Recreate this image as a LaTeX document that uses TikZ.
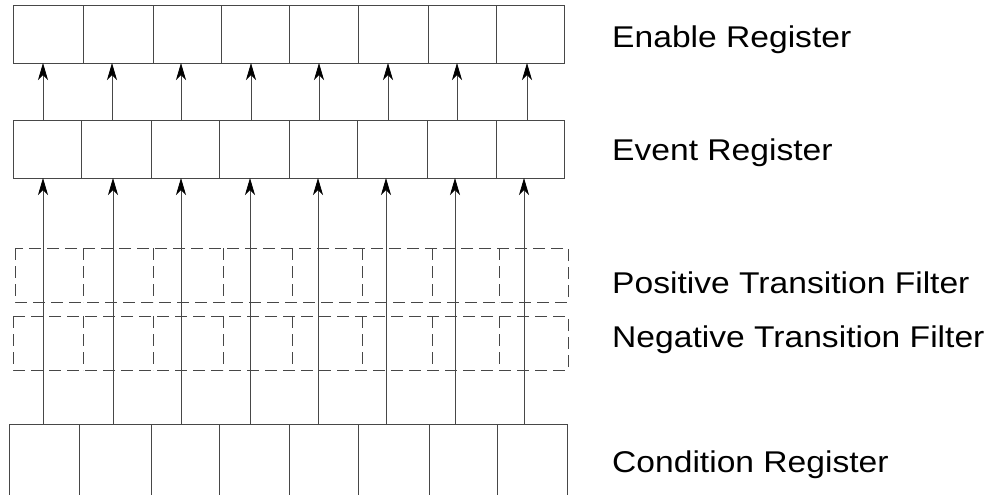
\documentclass[tikz,border=0pt]{standalone}
\usepackage{fontspec}
\setmainfont{Liberation Sans}
\usetikzlibrary{arrows.meta}
\begin{document}
\begin{tikzpicture}[x=1pt,y=-1pt,
  ln/.style={draw=black!72,line width=0.9pt},
  cell/.style={ln,rectangle,inner sep=0pt,outer sep=0pt,anchor=north west},
  dcell/.style={rectangle,inner sep=0pt,outer sep=0pt,anchor=north west},
  dsh/.style={ln,dash pattern=on 12pt off 6pt},
  arr/.style={ln,-{Stealth[length=17pt,width=10pt,inset=5pt,color=black,line width=0.8pt]}},
  lbl/.style={anchor=base west,inner sep=0pt,font=\fontsize{30}{36}\selectfont,xscale=1.12,transform shape}]
\useasboundingbox (0,0) rectangle (993,495);
\clip (0,0) rectangle (993,495);
% Enable register
\foreach \a/\b [count=\i] in {13/83,83/153,153/221,221/289,289/358,358/428,428/496,496/564}
  \node[cell,minimum width=\b-\a,minimum height=58] (en\i) at (\a,5) {};
% Event register
\foreach \a/\b [count=\i] in {13/81,81/151,151/219,219/289,289/357,357/427,427/496,496/564}
  \node[cell,minimum width=\b-\a,minimum height=58] (ev\i) at (\a,120) {};
% Positive transition filter
\foreach \a/\b [count=\i] in {15/83,83/153,153/223,223/292,292/362,362/432,432/499,499/568}
  \node[dcell,minimum width=\b-\a,minimum height=54] (pf\i) at (\a,248) {};
\draw[dsh] (pf1.north west) rectangle (pf8.south east);
\foreach \i in {1,...,7} \draw[dsh] (pf\i.north east) -- (pf\i.south east);
% Negative transition filter
\foreach \a/\b [count=\i] in {13/83,83/153,153/223,223/292,292/362,362/432,432/499,499/568}
  \node[dcell,minimum width=\b-\a,minimum height=54] (nf\i) at (\a,316) {};
\draw[dsh] (nf1.north west) rectangle (nf8.south east);
\foreach \i in {1,...,7} \draw[dsh] (nf\i.north east) -- (nf\i.south east);
% Condition register
\foreach \a/\b [count=\i] in {9/79,79/151,151/219,219/289,289/358,358/429,429/497,497/567}
  \node[cell,minimum width=\b-\a,minimum height=80] (co\i) at (\a,424) {};
% arrows event -> enable
\foreach \x [count=\i] in {43,112,181,251,319,388,457,527} {
  \coordinate (ua\i) at (\x,120);
  \draw[arr] (ua\i) -- (ua\i |- en\i.south);
}
% arrows condition -> event
\foreach \x [count=\i] in {43,113,181,250,318,386,455,524} {
  \coordinate (la\i) at (\x,424);
  \draw[arr] (la\i) -- (la\i |- ev\i.south);
}
% labels
\node[lbl] (tEn) at (612,47.5) {Enable Register};
\node[lbl] (tEv) at (612,160) {Event Register};
\node[lbl] (tPf) at (612,293) {Positive Transition Filter};
\node[lbl] (tNf) at (612,347) {Negative Transition Filter};
\node[lbl] (tCo) at (612,472) {Condition Register};
\end{tikzpicture}
\end{document}
